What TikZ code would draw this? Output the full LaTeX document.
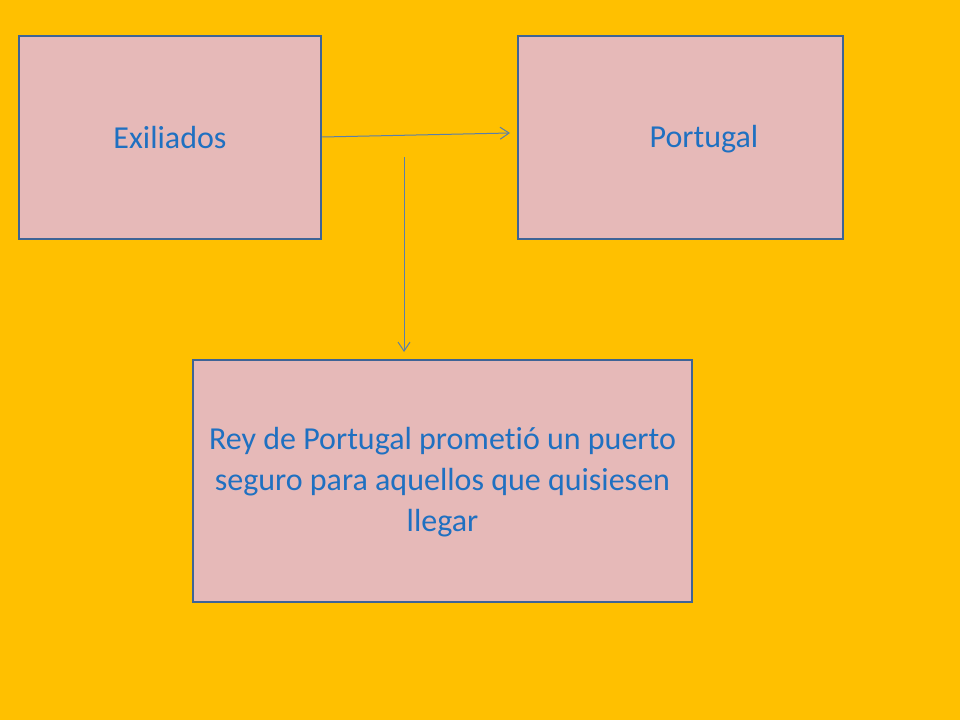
\documentclass[tikz,border=0pt]{standalone}
\usepackage{fontspec}
\setmainfont[Ligatures={NoCommon,NoContextual,NoRequired}]{Carlito}
\usetikzlibrary{arrows.meta}
\definecolor{bgor}{HTML}{FFC000}
\definecolor{boxfill}{HTML}{E6B9B8}
\definecolor{boxline}{HTML}{3E6496}
\definecolor{txtblue}{HTML}{1F70C1}
\definecolor{conn}{HTML}{5A7FA8}
\tikzset{
  pbox/.style={draw=boxline, line width=2.5pt, fill=boxfill, inner sep=0pt},
  ptext/.style={text=txtblue, font=\fontsize{32}{41}\selectfont, align=center},
  connector/.style={draw=conn, line width=1pt, -{Straight Barb[length=9pt,width=12pt]}}
}
\begin{document}
\begin{tikzpicture}[x=1pt,y=-1pt]
\useasboundingbox (0,0) rectangle (960,720);
\fill[bgor] (0,0) rectangle (960,720);
\node[pbox, minimum width=302pt, minimum height=203pt] (exil) at (170,137.5) {};
\node[pbox, minimum width=325pt, minimum height=203pt] (port) at (680.5,137.5) {};
\node[pbox, minimum width=499pt, minimum height=242pt] (rey) at (442.5,481) {};
\node[ptext] (exiltxt) at (170,138) {Exiliados};
\node[ptext] (porttxt) at (704,139) {Portugal};
\node[ptext] (reytxt) at (442.5,482) {Rey de Portugal prome\kern0pt tió un puerto\\seguro para aquellos que quisiesen\\llegar};
\coordinate (a1) at (exil.east |- 0,137);
\coordinate (a2) at (510,133);
\draw[connector] (a1) -- (a2);
\coordinate (b1) at (404,157);
\coordinate (b2) at (404,352);
\draw[connector] (b1) -- (b2);
\end{tikzpicture}
\end{document}
